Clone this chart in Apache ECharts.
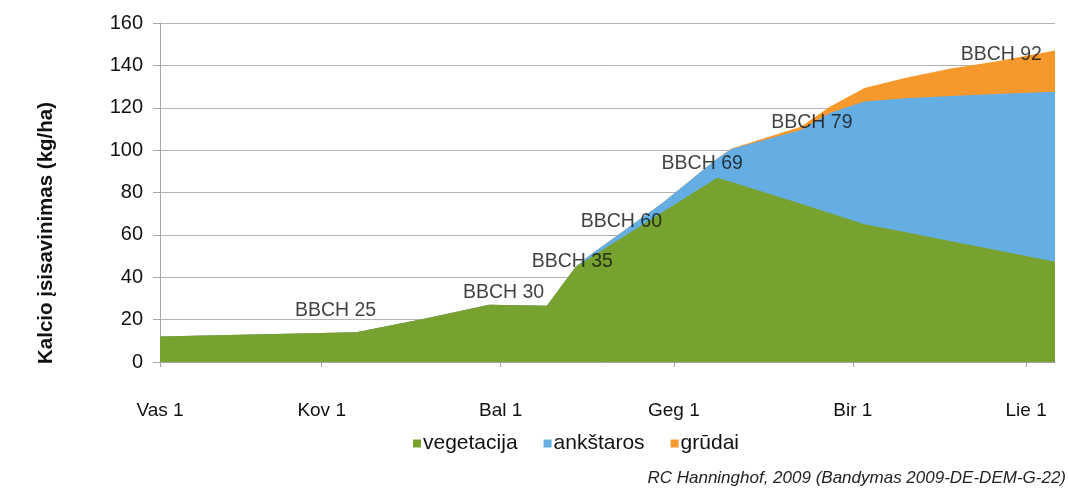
<!DOCTYPE html>
<html>
<head>
<meta charset="utf-8">
<script src="https://cdn.jsdelivr.net/npm/echarts@6/dist/echarts.min.js"></script>
<style>
  html, body { margin: 0; padding: 0; background: #ffffff; }
  #chart { width: 1068px; height: 490px; }
</style>
</head>
<body>
<div id="chart"></div>
<script>
// Days counted from 1 February
const tickDays = [0, 28, 59, 89, 120, 150];
const tickLabels = ['Vas 1', 'Kov 1', 'Bal 1', 'Geg 1', 'Bir 1', 'Lie 1'];

const days        = [0, 34, 46, 57, 67, 72, 74, 87, 96.5, 99, 111, 116, 122, 129, 137, 145, 155];
const vegetacija  = [12, 14, 20.5, 27, 26.5, 45, 48.4, 70.7, 87, 84.9, 74.7, 70.3, 65, 61.3, 57, 52.8, 47.3];
const ankstaros   = [0, 0, 0, 0, 0, 0, 1.1, 4.3, 9, 15.6, 34.8, 47.2, 58, 63.2, 68.5, 73.7, 80.3];
const grudai      = [0, 0, 0, 0, 0, 0, 0, 0, 0, 0.3, 1.5, 3, 6.3, 9.5, 13, 15.5, 19.4];

const seriesNames = ['vegetacija', 'ankštaros', 'grūdai'];

const bbchLabels = ['BBCH 25', 'BBCH 30', 'BBCH 35', 'BBCH 60', 'BBCH 69', 'BBCH 79', 'BBCH 92'];
const bbchDays   = [30.4, 59.5, 71.4, 79.9, 93.9, 112.9, 145.7];
const bbchValues = [24.3, 32.6, 47.6, 66.3, 93.4, 113, 145.3];

const yTitle = 'Kalcio įsisavinimas (kg/ha)';
const sourceNote = 'RC Hanninghof, 2009 (Bandymas 2009-DE-DEM-G-22)';

const colors = ['#77a22f', '#65aee3', '#f6982b'];
const FONT = '"Liberation Sans", Arial, sans-serif';

// cumulative tops (stacked), drawn as overlapping opaque areas
const layers = [vegetacija, ankstaros, grudai];
const cumulative = [];
layers.forEach((vals, i) => {
  cumulative.push(vals.map((v, j) => v + (i > 0 ? cumulative[i - 1][j] : 0)));
});

const chart = echarts.init(document.getElementById('chart'), null, { renderer: 'canvas' });

const areaSeries = layers.map((vals, i) => ({
  name: seriesNames[i],
  type: 'line',
  data: days.map((d, j) => [d, cumulative[i][j]]),
  symbol: 'none',
  showSymbol: false,
  lineStyle: { width: 0 },
  areaStyle: { color: colors[i], opacity: 1 },
  itemStyle: { color: colors[i] },
  z: 4 - i
}));

chart.setOption({
  animation: false,
  textStyle: { fontFamily: FONT },
  color: colors,
  grid: { left: 160, right: 13, top: 23, bottom: 128, containLabel: false },
  legend: {
    data: seriesNames,
    left: 408,
    top: 428,
    icon: 'rect',
    itemWidth: 8,
    itemHeight: 8,
    itemGap: 26,
    textStyle: { fontFamily: FONT, fontSize: 21, color: '#111', padding: [0, 0, 0, -3] }
  },
  xAxis: {
    type: 'value',
    min: 0,
    max: 155,
    axisLine: { show: true, lineStyle: { color: '#a6a6a6', width: 1 } },
    axisTick: { show: true, customValues: tickDays, length: 5, lineStyle: { color: '#a6a6a6' } },
    axisLabel: {
      customValues: tickDays,
      formatter: function (v) {
        const i = tickDays.indexOf(v);
        return i >= 0 ? tickLabels[i] : '';
      },
      margin: 39,
      fontSize: 19,
      color: '#111',
      fontFamily: FONT
    },
    splitLine: { show: false }
  },
  yAxis: {
    type: 'value',
    min: 0,
    max: 160,
    interval: 20,
    axisLine: { show: true, lineStyle: { color: '#a6a6a6', width: 1 } },
    axisTick: { show: true, length: 7, lineStyle: { color: '#a6a6a6' } },
    axisLabel: { margin: 17, fontSize: 20, color: '#111', fontFamily: FONT },
    splitLine: { show: true, lineStyle: { color: '#b3b3b3', width: 1 } }
  },
  series: areaSeries.concat([{
    name: 'BBCH',
    type: 'scatter',
    symbolSize: 0,
    data: bbchDays.map((d, i) => ({ value: [d, bbchValues[i]], name: bbchLabels[i] })),
    label: {
      show: true,
      position: 'inside',
      formatter: p => p.name,
      fontSize: 19.5,
      color: '#111',
      fontFamily: FONT
    },
    z: 10,
    silent: true
  }]),
  graphic: [
    {
      type: 'text',
      x: 46,
      y: 233,
      rotation: Math.PI / 2,
      style: {
        text: yTitle,
        font: 'bold 20.5px ' + FONT,
        fill: '#111',
        align: 'center',
        verticalAlign: 'middle'
      }
    },
    {
      type: 'text',
      right: 2,
      top: 470,
      style: {
        text: sourceNote,
        font: 'italic 17px ' + FONT,
        fill: '#222'
      }
    }
  ]
});
</script>
</body>
</html>
